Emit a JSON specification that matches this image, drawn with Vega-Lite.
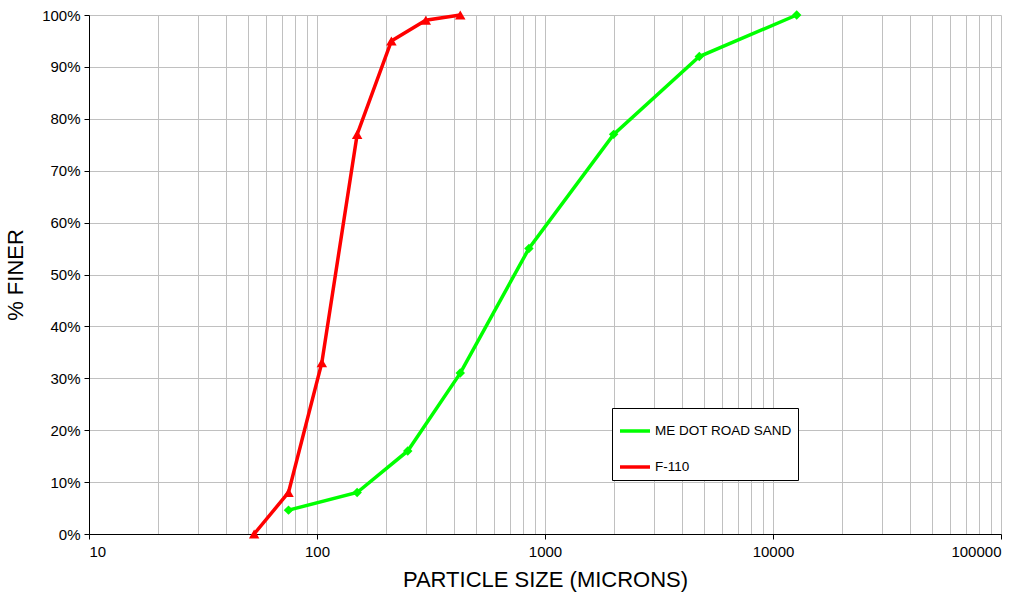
{
  "$schema": "https://vega.github.io/schema/vega-lite/v6.json",
  "width": 912,
  "height": 519,
  "autosize": {"type": "none"},
  "padding": {"left": 89, "top": 15, "right": 29, "bottom": 65},
  "background": "white",
  "config": {
    "font": "Liberation Sans",
    "view": {"stroke": null},
    "axis": {"labelFont": "Liberation Sans", "titleFont": "Liberation Sans", "labelColor": "#000", "titleColor": "#000", "titleFontWeight": "normal"}
  },
  "data": {
    "values": [
      {"series": "F-110", "size": 53, "finer": 0},
      {"series": "F-110", "size": 75, "finer": 8},
      {"series": "F-110", "size": 105, "finer": 33},
      {"series": "F-110", "size": 150, "finer": 77},
      {"series": "F-110", "size": 212, "finer": 95},
      {"series": "F-110", "size": 300, "finer": 99},
      {"series": "F-110", "size": 425, "finer": 100},
      {"series": "ME DOT ROAD SAND", "size": 75, "finer": 4.6},
      {"series": "ME DOT ROAD SAND", "size": 150, "finer": 8},
      {"series": "ME DOT ROAD SAND", "size": 250, "finer": 16},
      {"series": "ME DOT ROAD SAND", "size": 425, "finer": 31},
      {"series": "ME DOT ROAD SAND", "size": 850, "finer": 55},
      {"series": "ME DOT ROAD SAND", "size": 2000, "finer": 77},
      {"series": "ME DOT ROAD SAND", "size": 4750, "finer": 92},
      {"series": "ME DOT ROAD SAND", "size": 12700, "finer": 100}
    ]
  },
  "encoding": {
    "x": {
      "field": "size", "type": "quantitative",
      "scale": {"type": "log", "domain": [10, 100000], "nice": false},
      "title": "PARTICLE SIZE (MICRONS)",
      "axis": {
        "values": [10,20,30,40,50,60,70,80,90,100,200,300,400,500,600,700,800,900,1000,2000,3000,4000,5000,6000,7000,8000,9000,10000,20000,30000,40000,50000,60000,70000,80000,90000,100000],
        "labelExpr": "abs(log(datum.value)/LN10 - round(log(datum.value)/LN10)) < 0.001 ? format(datum.value, 'd') : ''",
        "tickOpacity": {"condition": {"test": "abs(log(datum.value)/LN10 - round(log(datum.value)/LN10)) < 0.001", "value": 1}, "value": 0},
        "grid": true, "gridColor": "#c0c0c0", "gridWidth": 1,
        "domainColor": "#000", "tickColor": "#000", "tickSize": 5,
        "labelFontSize": 15, "labelPadding": 5, "labelOverlap": false,
        "titleFontSize": 22, "titlePadding": 10
      }
    },
    "y": {
      "field": "finer", "type": "quantitative",
      "scale": {"domain": [0, 100], "nice": false},
      "title": "% FINER",
      "axis": {
        "values": [0,10,20,30,40,50,60,70,80,90,100],
        "labelExpr": "datum.value + '%'",
        "grid": true, "gridColor": "#c0c0c0", "gridWidth": 1,
        "domainColor": "#000", "tickColor": "#000", "tickSize": 5,
        "labelFontSize": 15, "labelPadding": 4,
        "titleFontSize": 22, "titlePadding": 14
      }
    }
  },
  "layer": [
    {
      "mark": {"type": "line", "strokeWidth": 3.5},
      "encoding": {
        "color": {
          "field": "series", "type": "nominal",
          "scale": {"domain": ["ME DOT ROAD SAND", "F-110"], "range": ["#00ff00", "#ff0000"]},
          "legend": {
            "title": null, "orient": "none", "legendX": 523, "legendY": 393,
            "symbolType": "stroke", "symbolSize": 900, "symbolStrokeWidth": 3.5,
            "labelFontSize": 13.5, "labelColor": "#000", "rowPadding": 12, "labelOffset": 3,
            "strokeColor": "#000", "fillColor": "#fff", "padding": 6,
            "labelLimit": 200
          }
        }
      }
    },
    {
      "transform": [{"filter": "datum.series == 'ME DOT ROAD SAND'"}],
      "mark": {"type": "point", "filled": true, "size": 90, "opacity": 1, "shape": "diamond", "color": "#00ff00"}
    },
    {
      "transform": [{"filter": "datum.series == 'F-110'"}],
      "mark": {"type": "point", "filled": true, "size": 110, "opacity": 1, "shape": "triangle-up", "color": "#ff0000"}
    }
  ]
}
